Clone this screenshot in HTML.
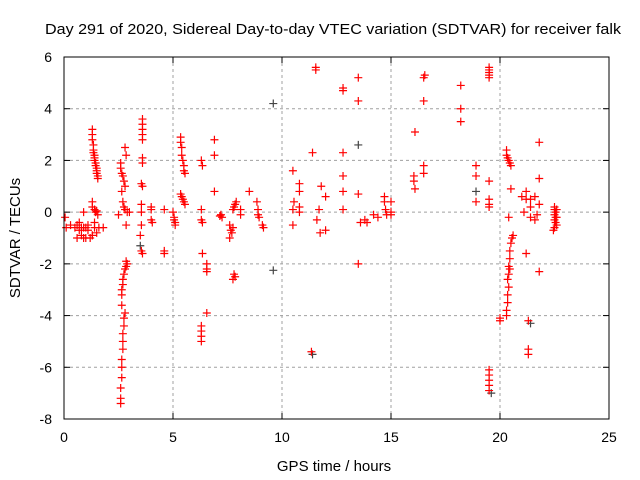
<!DOCTYPE html>
<html><head><meta charset="utf-8"><style>
body{margin:0;background:#fff;}
svg{display:block;font-family:"Liberation Sans",sans-serif;}
</style></head><body>
<svg id="chart" width="640" height="480">
<text x="333" y="34" text-anchor="middle" font-size="15" textLength="576" lengthAdjust="spacingAndGlyphs">Day 291 of 2020, Sidereal Day-to-day VTEC variation (SDTVAR) for receiver falk</text>
<text x="334" y="471" text-anchor="middle" font-size="15">GPS time / hours</text>
<text x="20" y="238" text-anchor="middle" font-size="15" transform="rotate(-90 20 238)">SDTVAR / TECUs</text>
<g id="grid"></g><g id="ticks"></g><g id="marks"></g>
<rect x="64" y="57" width="545" height="362" fill="none" stroke="#000" stroke-width="1"/>
</svg>
<script>
const xTicks=[0,5,10,15,20,25];
const yTicks=[-8,-6,-4,-2,0,2,4,6];
const blackPoints=[[9.6,4.2],[9.6,-2.25],[13.5,2.6],[18.9,0.8],[19.6,-7.0],[21.4,-4.3],[3.5,-1.3],[11.4,-5.5]];
const redPoints=[
[0.05,-0.2],[0.1,-0.6],[0.3,-0.5],[0.5,-0.6],[0.6,-0.5],[0.7,-0.7],[0.8,-0.9],[0.9,-0.6],[1.0,-0.6],[1.1,-0.7],[1.2,-1.0],[1.3,-0.9],[1.4,-0.6],[0.6,-1.0],[0.9,-1.0],[1.0,-1.0],[1.5,-0.8],[1.6,-0.6],[1.8,-0.6],[0.9,0.0],[0.7,-0.4],[1.1,-0.5],[0.8,-0.6],
[1.3,3.2],[1.3,3.0],[1.3,2.8],[1.35,2.6],[1.35,2.4],[1.35,2.3],[1.4,2.2],[1.4,2.1],[1.4,2.0],[1.45,1.9],[1.45,1.8],[1.5,1.7],[1.5,1.6],[1.5,1.5],[1.55,1.4],[1.55,1.3],[1.3,0.4],[1.3,0.2],[1.4,0.1],[1.45,0.0],[1.5,0.05],[1.55,-0.1],[1.4,-0.4],[1.3,-0.9],
[2.6,-7.4],[2.6,-7.2],[2.6,-6.8],[2.65,-6.4],[2.65,-6.0],[2.65,-5.7],[2.7,-5.3],[2.7,-5.0],[2.7,-4.7],[2.75,-4.4],[2.75,-4.1],[2.8,-3.9],[2.65,-3.6],[2.65,-3.2],[2.65,-3.0],[2.7,-2.8],[2.7,-2.6],[2.75,-2.4],[2.8,-2.2],[2.85,-2.1],[2.9,-2.0],[2.85,-1.9],[2.6,1.9],[2.6,1.7],[2.65,1.5],[2.7,1.4],[2.75,1.2],[2.8,1.0],[2.65,0.8],[2.7,0.4],[2.75,0.2],[2.8,0.1],[2.9,0.0],[2.5,-0.1],[2.85,-0.5],[2.8,2.5],[2.85,2.2],[3.0,0.0],
[3.6,3.6],[3.6,3.4],[3.6,3.2],[3.6,3.0],[3.6,2.8],[3.6,2.1],[3.6,1.9],[3.55,1.1],[3.6,1.0],[3.55,0.3],[3.55,0.0],[3.55,-0.5],[3.5,-0.9],[3.55,-1.5],[3.6,-1.6],
[4.0,0.2],[4.0,0.1],[4.0,-0.3],[4.05,-0.4],[4.6,0.1],[4.6,-1.5],[4.6,-1.6],
[5.0,0.0],[5.05,-0.2],[5.05,-0.3],[5.1,-0.4],[5.1,-0.5],
[5.35,2.9],[5.35,2.7],[5.4,2.5],[5.4,2.2],[5.45,2.0],[5.5,1.8],[5.5,1.6],[5.55,1.5],[5.35,0.7],[5.4,0.6],[5.45,0.5],[5.5,0.4],[5.55,0.3],
[6.3,0.1],[6.3,-0.3],[6.35,-0.4],[6.3,2.0],[6.35,1.8],[6.35,-1.6],[6.3,-4.4],[6.3,-4.6],[6.3,-4.8],[6.3,-5.0],[6.55,-2.0],[6.55,-2.2],[6.55,-2.3],[6.55,-3.9],
[6.9,2.8],[6.9,2.2],[6.9,0.8],[7.2,-0.1],[7.25,-0.2],[7.15,-0.15],
[7.75,0.1],[7.8,0.2],[7.85,0.3],[7.9,0.4],[7.6,-0.5],[7.65,-0.7],[7.7,-0.8],[7.6,-1.0],[7.75,-0.6],[7.8,-2.4],[7.85,-2.5],[7.75,-2.6],
[8.1,0.1],[8.1,-0.1],[8.5,0.8],[8.85,0.4],[8.9,0.1],[8.9,-0.1],[8.95,-0.2],[9.1,-0.5],[9.15,-0.6],
[10.5,1.6],[10.5,0.1],[10.5,-0.5],[10.55,0.4],[10.8,1.1],[10.8,0.8],[10.8,0.2],[10.8,0.0],
[11.4,2.3],[11.55,5.6],[11.55,5.5],[11.35,-5.4],[11.7,0.1],[11.8,1.0],[11.75,-0.8],[12.0,0.6],[12.0,-0.7],[11.6,-0.3],
[12.8,4.8],[12.8,4.7],[12.8,2.3],[12.8,1.4],[12.8,0.8],[12.8,0.1],[13.5,5.2],[13.5,4.3],[13.5,-2.0],[13.5,0.7],[13.6,-0.4],[13.9,-0.4],[13.8,-0.3],[14.4,-0.2],[14.2,-0.1],
[14.7,0.6],[14.7,0.4],[14.75,0.1],[14.8,-0.1],[15.0,0.4],[15.0,0.0],[15.0,-0.1],
[16.1,3.1],[16.05,1.4],[16.05,1.2],[16.1,0.9],[16.5,5.2],[16.55,5.3],[16.5,4.3],[16.5,1.8],[16.5,1.5],
[18.2,4.9],[18.2,4.0],[18.2,3.5],[18.9,1.8],[18.9,1.4],[18.9,0.4],
[19.5,5.6],[19.5,5.5],[19.5,5.4],[19.5,5.3],[19.5,5.2],[19.5,1.2],[19.5,0.5],[19.5,0.3],[19.5,0.2],[19.5,-6.1],[19.5,-6.3],[19.5,-6.5],[19.5,-6.7],[19.5,-6.9],
[20.0,-4.1],[20.0,-4.2],
[20.3,2.4],[20.3,2.2],[20.35,2.1],[20.4,2.0],[20.45,1.9],[20.5,1.8],[20.5,0.9],[20.4,-0.2],[20.55,-1.0],[20.5,-1.2],[20.45,-1.5],[20.45,-1.8],[20.4,-2.1],[20.4,-2.4],[20.35,-2.6],[20.4,-2.9],[20.35,-3.2],[20.35,-3.5],[20.3,-3.8],[20.3,-4.0],[20.6,-0.9],[20.45,-2.2],
[21.2,0.8],[21.2,0.5],[21.2,-1.6],[21.4,0.5],[21.4,0.2],[21.4,-0.2],[21.3,-4.2],[21.3,-5.3],[21.3,-5.5],[21.0,0.6],[21.1,0.0],
[21.8,2.7],[21.8,1.3],[21.8,0.3],[21.8,-2.3],[21.6,-0.3],[21.6,0.6],[21.7,-0.1],
[22.5,0.2],[22.5,0.1],[22.55,0.0],[22.5,-0.1],[22.55,-0.2],[22.5,-0.3],[22.55,-0.4],[22.5,-0.6],[22.45,-0.7],[22.6,0.1],[22.6,-0.2],[22.6,-0.5]
];
const NS='http://www.w3.org/2000/svg';
const X0=64,X1=609,Y0=419,Y1=57;
function sx(h){return X0+(h-0)/(25-0)*(X1-X0);}
function sy(v){return Y0-(v+8)/14*(Y0-Y1);}
const grid=document.getElementById('grid'),ticks=document.getElementById('ticks'),marks=document.getElementById('marks');
function mk(t,a,p){const e=document.createElementNS(NS,t);for(const k in a)e.setAttribute(k,a[k]);p.appendChild(e);return e;}
xTicks.forEach(t=>{const x=sx(t);
 if(t>0&&t<25){const g=mk('line',{x1:x,x2:x,y1:Y1,y2:Y0,stroke:'#a0a0a0','stroke-dasharray':'3,3'},grid);
 
 }
 mk('line',{x1:x,x2:x,y1:Y0,y2:Y0-6,stroke:'#000'},ticks);mk('line',{x1:x,x2:x,y1:Y1,y2:Y1+6,stroke:'#000'},ticks);
 const l=mk('text',{x:x,y:Y0+23,'text-anchor':'middle','font-size':14},ticks);l.textContent=t;
 
 });
yTicks.forEach(t=>{const y=sy(t);
 if(t>-8&&t<6){const g=mk('line',{x1:X0,x2:X1,y1:y,y2:y,stroke:'#a0a0a0','stroke-dasharray':'3,3'},grid);
 
 }
 mk('line',{x1:X0,x2:X0+6,y1:y,y2:y,stroke:'#000'},ticks);mk('line',{x1:X1,x2:X1-6,y1:y,y2:y,stroke:'#000'},ticks);
 const l=mk('text',{x:X0-12,y:y+5,'text-anchor':'end','font-size':14},ticks);l.textContent=t;
 
 });
function plus(h,v,c,name){const x=sx(h),y=sy(v);
 const p=mk('path',{d:`M${x-4},${y}H${x+4}M${x},${y-4}V${y+4}`,stroke:c,'stroke-width':1.2,fill:'none'},marks);
 
 }
blackPoints.forEach(p=>plus(p[0],p[1],'#444','black-point'));
redPoints.forEach(p=>plus(p[0],p[1],'#f00','red-point'));
</script>
</body></html>
